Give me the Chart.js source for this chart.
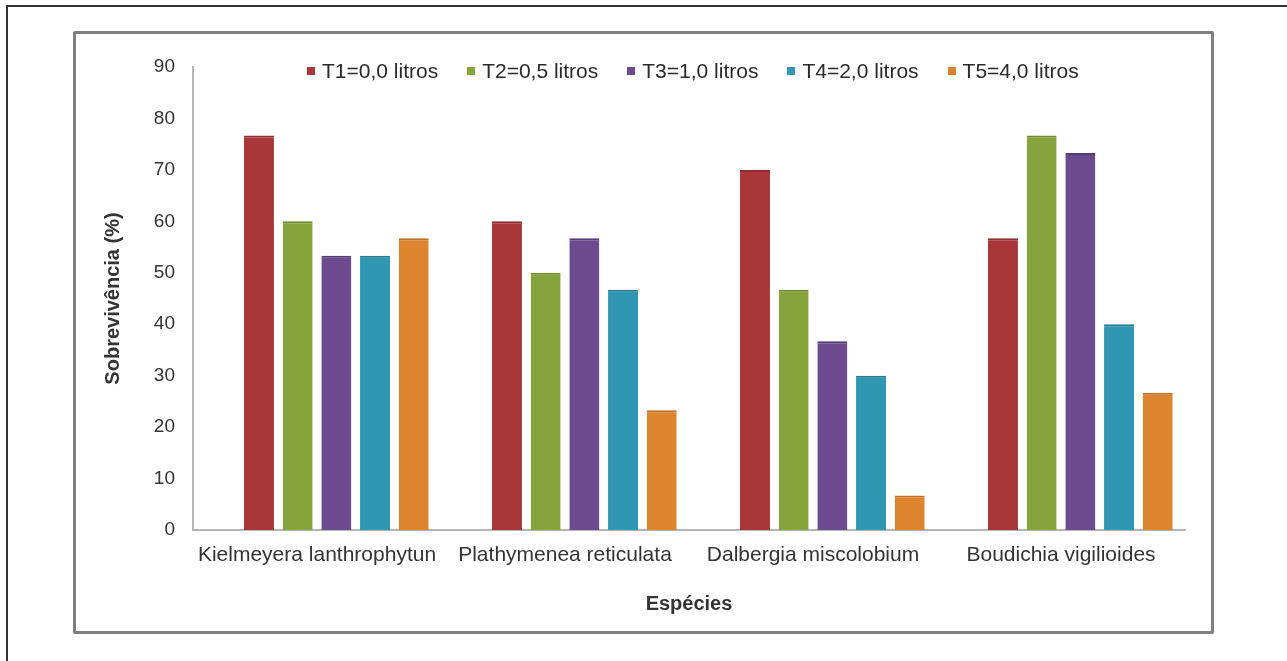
<!DOCTYPE html>
<html lang="pt">
<head>
<meta charset="utf-8">
<title>Sobrevivência por espécie</title>
<script src="https://cdn.jsdelivr.net/npm/chart.js@4.4.1/dist/chart.umd.min.js"></script>
<style>
    body {
        margin: 0;
        background: #fff;
        font-family: "Liberation Sans", Arial, sans-serif;
    }

    .moldura {
        position: absolute;
        left: 6px;
        top: 5px;
        width: 1400px;
        height: 800px;
        border-top: 2px solid #333;
        border-left: 2px solid #333;
    }

    .caixa {
        position: absolute;
        left: 73px;
        top: 31px;
        width: 1135px;
        height: 597px;
        border: 3px solid #808080;
        border-radius: 2px;
        background: #fff;
    }

    .area {
        position: absolute;
        left: 1px;
        top: 1px;
        width: 1133px;
        height: 595px;
    }

    #legenda {
        position: absolute;
        left: 231px;
        top: 25px;
        display: flex;
        align-items: center;
        font-size: 21px;
        color: #2a2a2a;
        white-space: nowrap;
    }

    #legenda .item {
        display: flex;
        align-items: center;
        margin-right: 29px;
    }

    #legenda .cor {
        width: 8px;
        height: 8px;
        margin-right: 7px;
    }
</style>
</head>
<body>

<div class="moldura"></div>

<div class="caixa">
    <div class="area">
        <canvas id="graficoSobrevivencia"></canvas>
    </div>
    <div id="legenda"></div>
</div>

<script>
// dados (% de sobrevivência)
const especies = ['Kielmeyera lanthrophytun', 'Plathymenea reticulata', 'Dalbergia miscolobium', 'Boudichia vigilioides'];
const tratamentos = ['T1=0,0 litros', 'T2=0,5 litros', 'T3=1,0 litros', 'T4=2,0 litros', 'T5=4,0 litros'];

const t1 = [76.7, 60.0, 70.0, 56.7];
const t2 = [60.0, 50.0, 46.7, 76.7];
const t3 = [53.3, 56.7, 36.7, 73.3];
const t4 = [53.3, 46.7, 30.0, 40.0];
const t5 = [56.7, 23.3, 6.7, 26.7];

// a planilha original tem uma série vazia antes de T1
const serieVazia = [null, null, null, null];

const ticksY = [0, 10, 20, 30, 40, 50, 60, 70, 80, 90];

const cores = ['#a9373a', '#86a33d', '#6b4b8d', '#2f97b1', '#dd842f'];
const bordas = ['#8e2c2f', '#718a32', '#573c75', '#267d93', '#bf6f24'];

const fonte = '"Liberation Sans", Arial, sans-serif';

let datasets = [{
    label: '',
    data: serieVazia,
    backgroundColor: 'rgba(0,0,0,0)'
}];

[t1, t2, t3, t4, t5].forEach((valores, i) => {
    datasets.push({
        label: tratamentos[i],
        data: valores,
        backgroundColor: cores[i],
        borderColor: bordas[i],
        borderWidth: { top: 2, left: 0, right: 0, bottom: 0 }
    });
});

const ctx = document.getElementById('graficoSobrevivencia').getContext('2d');

const grafico = new Chart(ctx, {
    type: 'bar',
    data: {
        labels: especies,
        datasets: datasets
    },
    options: {
        responsive: true,
        maintainAspectRatio: false,
        animation: false,
        layout: {
            padding: { top: 32, right: 25, left: 0, bottom: 0 }
        },
        datasets: {
            bar: {
                categoryPercentage: 0.936,
                barPercentage: 0.775
            }
        },
        plugins: {
            legend: { display: false },
            tooltip: { enabled: false }
        },
        scales: {
            x: {
                grid: { display: false, drawTicks: false },
                border: { display: true, color: '#b5b5b5', width: 2 },
                ticks: {
                    color: '#333',
                    padding: 13,
                    maxRotation: 0,
                    font: { family: fonte, size: 21 }
                },
                title: {
                    display: true,
                    text: 'Espécies',
                    color: '#333',
                    font: { family: fonte, size: 20, weight: 'bold' },
                    padding: { top: 0, bottom: 14 }
                },
                afterFit: function (escala) {
                    escala.height = 100;
                }
            },
            y: {
                min: 0,
                max: 90,
                afterBuildTicks: function (escala) {
                    escala.ticks = ticksY.map(v => ({ value: v }));
                },
                grid: { display: false, drawTicks: false },
                border: { display: true, color: '#b5b5b5', width: 2 },
                ticks: {
                    color: '#333',
                    padding: 18,
                    font: { family: fonte, size: 19 }
                },
                title: {
                    display: true,
                    text: 'Sobrevivência (%)',
                    color: '#333',
                    font: { family: fonte, size: 20, weight: 'bold' },
                    padding: { top: 24, bottom: 0 }
                },
                afterFit: function (escala) {
                    escala.width = 116;
                }
            }
        }
    }
});

// legenda em html, sobreposta à área do gráfico como no original
let html = '';
grafico.data.datasets.forEach(ds => {
    if (!ds.label) return;
    html += `
        <div class="item">
            <span class="cor" style="background:${ds.backgroundColor}"></span>
            <span>${ds.label}</span>
        </div>
    `;
});
document.getElementById('legenda').innerHTML = html;
</script>
</body>
</html>
